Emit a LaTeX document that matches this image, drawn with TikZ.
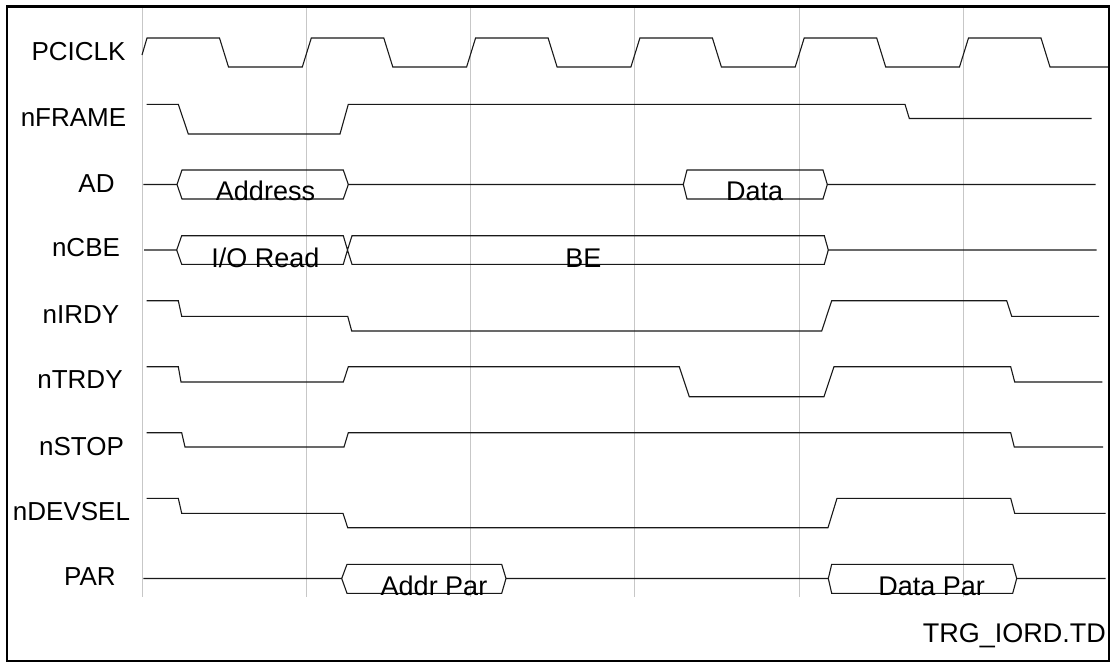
\documentclass[tikz,border=0pt]{standalone}
\usepackage{fontspec}
\setmainfont{Liberation Sans}
\begin{document}
\begin{tikzpicture}[x=1pt, y=-1pt,
    sig/.style={line width=1.1pt, black!90},
    gridln/.style={line width=1pt, black!22},
    lbl/.style={font=\fontsize{26}{30}\selectfont, inner sep=0pt, anchor=base},
    buslbl/.style={font=\fontsize{27}{32}\selectfont, inner sep=0pt, anchor=base}]
    \useasboundingbox (0,0) rectangle (1112,664);

    % Clock grid
    \draw[gridln] (142,6) -- (142,597);
    \draw[gridln] (306.3,6) -- (306.3,597);
    \draw[gridln] (470.6,6) -- (470.6,597);
    \draw[gridln] (634.9,6) -- (634.9,597);
    \draw[gridln] (799.2,6) -- (799.2,597);
    \draw[gridln] (963.5,6) -- (963.5,597);

    % Signal names
    \node[lbl] (pciclk) at (78.5,60.7) {PCICLK};
    \node[lbl] (nframe) at (73.5,126) {nFRAME};
    \node[lbl] (ad) at (96.5,192) {AD};
    \node[lbl] (ncbe) at (86,256.7) {nCBE};
    \node[lbl] (nirdy) at (81,323) {nIRDY};
    \node[lbl] (ntrdy) at (80,388) {nTRDY};
    \node[lbl] (nstop) at (81.5,455) {nSTOP};
    \node[lbl] (ndevsel) at (71.5,520) {nDEVSEL};
    \node[lbl] (par) at (90,585) {PAR};

    % PCICLK
    \draw[sig] (142,55) -- (147,38) -- (219.5,38) -- (228.5,67) -- (302.3,67) -- (311.3,38)
        -- (383.8,38) -- (392.8,67) -- (466.6,67) -- (475.6,38) -- (548.1,38) -- (557.1,67)
        -- (630.9,67) -- (639.9,38) -- (712.4,38) -- (721.4,67) -- (795.2,67) -- (804.2,38)
        -- (876.7,38) -- (885.7,67) -- (959.5,67) -- (968.5,38) -- (1041,38) -- (1050,67) -- (1108,67);

    % nFRAME
    \draw[sig] (146.7,104.3) -- (178.3,104.3) -- (188.3,134) -- (340,134) -- (348.3,104.3)
        -- (905,104.3) -- (909.3,118.5) -- (1091.7,118.5);

    % AD
    \draw[sig] (143.3,184.5) -- (177,184.5) -- (182,170) -- (343.3,170) -- (348.3,184.5)
        -- (683.3,184.5) -- (687,170) -- (823,170) -- (827.3,184.5) -- (1095.7,184.5);
    \draw[sig] (177,184.5) -- (182,199) -- (343.3,199) -- (348.3,184.5);
    \draw[sig] (683.3,184.5) -- (687,199) -- (823,199) -- (827.3,184.5);
    \node[buslbl] (address) at (265.5,200.5) {Address};
    \node[buslbl] (data) at (754.7,200.5) {Data};

    % nCBE
    \draw[sig] (144,250) -- (176.7,250) -- (181.7,235.7) -- (343.3,235.7) -- (347.5,250)
        -- (352,235.7) -- (824.3,235.7) -- (828.3,250) -- (1096.7,250);
    \draw[sig] (176.7,250) -- (181.7,264.3) -- (343.3,264.3) -- (347.5,250)
        -- (352,264.3) -- (824.3,264.3) -- (828.3,250);
    \node[buslbl] (ioread) at (265.5,267) {I/O Read};
    \node[buslbl] (be) at (583.3,267.5) {BE};

    % nIRDY
    \draw[sig] (146.7,300.7) -- (178.3,300.7) -- (181.7,316.3) -- (347.7,316.3) -- (351.7,331)
        -- (821.7,331) -- (831.7,300.7) -- (1006.7,300.7) -- (1011.7,316.3) -- (1099,316.3);

    % nTRDY
    \draw[sig] (146.7,366.7) -- (178.3,366.7) -- (181,382) -- (343.3,382) -- (348.3,366.7)
        -- (679.3,366.7) -- (689.3,396.7) -- (824,396.7) -- (834,366.7) -- (1010.7,366.7)
        -- (1014.7,382) -- (1102.3,382);

    % nSTOP
    \draw[sig] (146.7,432.7) -- (181.7,432.7) -- (185,447) -- (344,447) -- (348.3,432.7)
        -- (1010.7,432.7) -- (1014.3,447) -- (1103,447);

    % nDEVSEL
    \draw[sig] (146.7,498.3) -- (178.3,498.3) -- (181.7,513.3) -- (343,513.3) -- (347.7,527.7)
        -- (828,527.7) -- (837,498.3) -- (1010.7,498.3) -- (1014.7,513.3) -- (1105.7,513.3);

    % PAR
    \draw[sig] (143.3,578.5) -- (341.7,578.5) -- (347,564.3) -- (501.7,564.3) -- (506,578.5)
        -- (828.3,578.5) -- (831.7,564.3) -- (1012.7,564.3) -- (1016.7,578.5) -- (1105.7,578.5);
    \draw[sig] (341.7,578.5) -- (347,593.3) -- (501.7,593.3) -- (506,578.5);
    \draw[sig] (828.3,578.5) -- (831.7,593.3) -- (1012.7,593.3) -- (1016.7,578.5);
    \node[buslbl] (addrpar) at (434,595.5) {Addr Par};
    \node[buslbl] (datapar) at (931.7,595.5) {Data Par};

    % Frame and file name
    \draw[line width=2.5pt] (7,6.3) rectangle (1109,661);
    \node[buslbl, anchor=base east] (fname) at (1106,642) {TRG\_IORD.TD};
\end{tikzpicture}
\end{document}
